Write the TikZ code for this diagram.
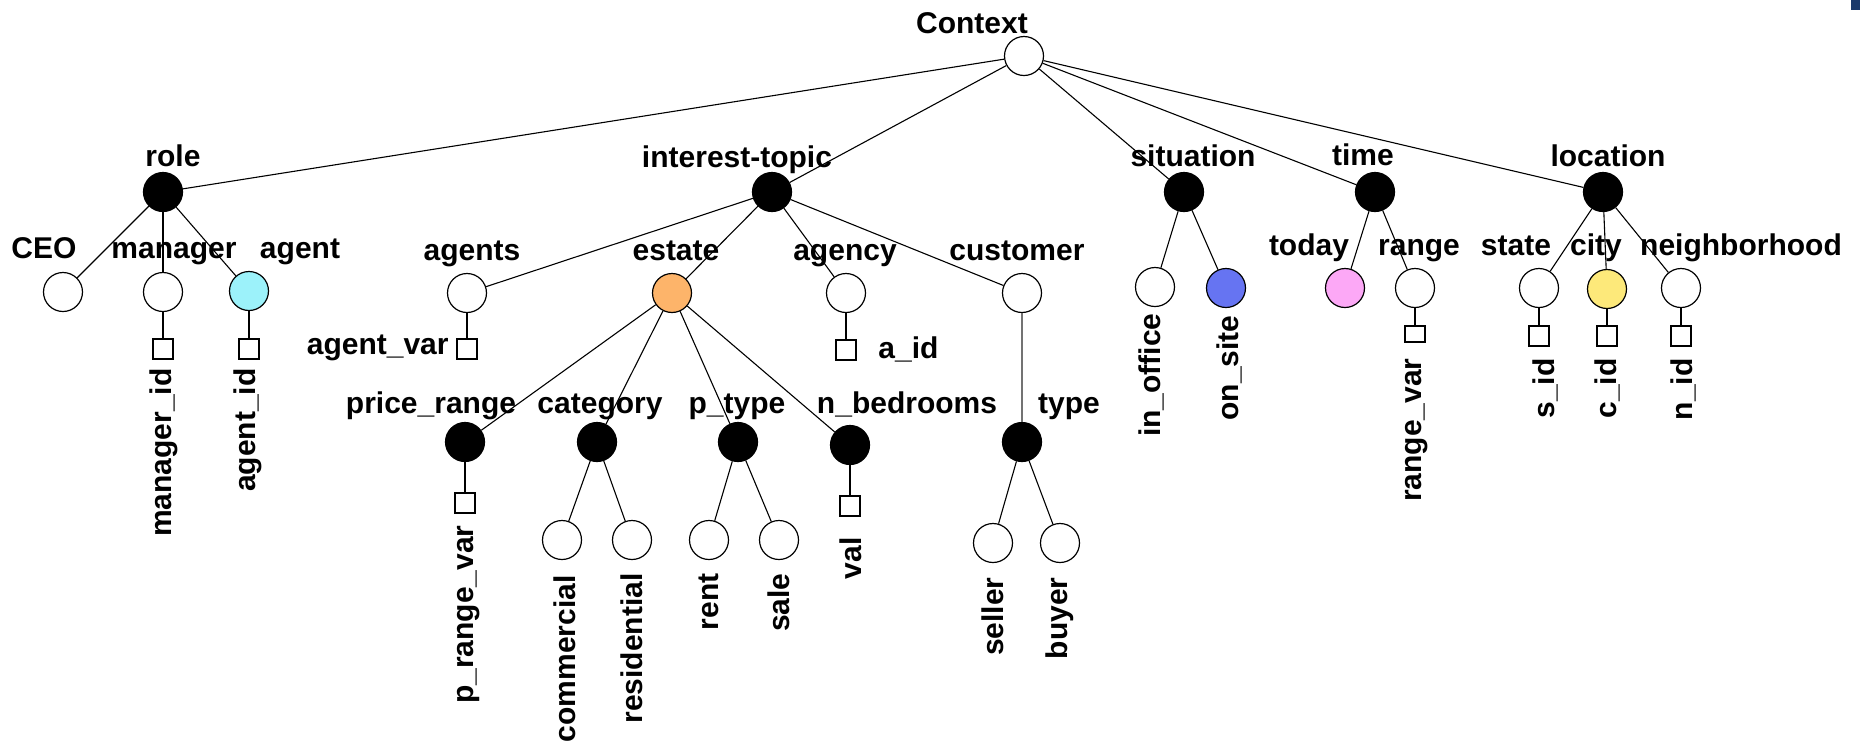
\documentclass[tikz,border=0pt]{standalone}
\usepackage{fontspec}
\setmainfont{Liberation Sans}
\definecolor{cyanc}{HTML}{9CF2FA}
\definecolor{orangec}{HTML}{FDB46A}
\definecolor{bluec}{HTML}{6674F2}
\definecolor{pinkc}{HTML}{FCA8F6}
\definecolor{yellowc}{HTML}{FDE97A}
\definecolor{navyc}{HTML}{1B3A6B}
\tikzset{
  cnode/.style={circle,draw=black,line width=0.6pt,minimum size=19.5pt,inner sep=0pt,fill=white},
  bnode/.style={cnode,fill=black},
  snode/.style={rectangle,draw=black,line width=0.6pt,minimum size=10pt,inner sep=0pt,fill=white},
  lbl/.style={font=\bfseries\fontsize{15}{18}\selectfont,inner sep=0pt,anchor=base},
  vlbl/.style={font=\bfseries\fontsize{15}{18}\selectfont,inner sep=0pt,anchor=east,rotate=90},
  edge/.style={draw=black,line width=0.55pt},
  gedge/.style={draw=black!55,line width=0.55pt}
}
\begin{document}
\begin{tikzpicture}[x=0.5pt,y=-0.5pt]
\useasboundingbox (0,0) rectangle (1860,741);
\fill[navyc] (1851,0) rectangle (1860,10);
% labels
\node[lbl] (lContext) at (972,33) {Context};
\node[lbl] (lrole) at (173,166) {role};
\node[lbl] (linterest) at (737,167) {interest-topic};
\node[lbl] (lsituation) at (1193,166) {situation};
\node[lbl] (ltime) at (1363,165) {time};
\node[lbl] (llocation) at (1608,166) {location};
\node[lbl] (lCEO) at (44,258) {CEO};
\node[lbl] (lmanager) at (174,258) {manager};
\node[lbl] (lagent) at (300,258) {agent};
\node[lbl] (lagents) at (472,260) {agents};
\node[lbl] (lestate) at (676,260) {estate};
\node[lbl] (lagency) at (845,260) {agency};
\node[lbl] (lcustomer) at (1017,260) {customer};
\node[lbl] (ltoday) at (1309,255) {today};
\node[lbl] (lrange) at (1419,255) {range};
\node[lbl] (lstate) at (1516,255) {state};
\node[lbl] (lcity) at (1596,255) {city};
\node[lbl] (lneighborhood) at (1741,255) {neighborhood};
\node[lbl] (lprice) at (431,413) {price\_range};
\node[lbl] (lcategory) at (600,413) {category};
\node[lbl] (lptype) at (737,413) {p\_type};
\node[lbl] (lnbed) at (907,413) {n\_bedrooms};
\node[lbl] (ltype) at (1069,413) {type};
\node[lbl,anchor=base east] (lagentvar) at (449,354) {agent\_var};
\node[lbl,anchor=base west] (laid) at (878,358) {a\_id};
% vertical labels
\node[vlbl] (lmanagerid) at (164,368) {manager\_id};
\node[vlbl] (lagentid) at (248,368) {agent\_id};
\node[vlbl] (lprangevar) at (469,525) {p\_range\_var};
\node[vlbl] (lcommercial) at (565,575) {commercial};
\node[vlbl] (lresidential) at (632,573) {residential};
\node[vlbl] (lrent) at (709,573) {rent};
\node[vlbl] (lsale) at (779,573) {sale};
\node[vlbl] (lval) at (851,537) {val};
\node[vlbl] (lseller) at (993,577) {seller};
\node[vlbl] (lbuyer) at (1060,577) {buyer};
\node[vlbl] (linoffice) at (1151,313) {in\_office};
\node[vlbl] (lonsite) at (1229,315) {on\_site};
\node[vlbl] (lrangevar) at (1417,358) {range\_var};
\node[vlbl] (lsid) at (1545,358) {s\_id};
\node[vlbl] (lcid) at (1607,358) {c\_id};
\node[vlbl] (lnid) at (1683,358) {n\_id};
% circle nodes
\node[cnode] (context) at (1024,56) {};
\node[bnode] (role) at (163,192) {};
\node[bnode] (interest) at (772,192) {};
\node[bnode] (situation) at (1184,192) {};
\node[bnode] (time) at (1375,192) {};
\node[bnode] (location) at (1603,192) {};
\node[cnode] (ceo) at (63,292) {};
\node[cnode] (manager) at (163,292) {};
\node[cnode,fill=cyanc] (agent) at (249,291) {};
\node[cnode] (agents) at (467,293) {};
\node[cnode,fill=orangec] (estate) at (672,293) {};
\node[cnode] (agency) at (846,293) {};
\node[cnode] (customer) at (1022,293) {};
\node[cnode] (inoffice) at (1155,287) {};
\node[cnode,fill=bluec] (onsite) at (1226,288) {};
\node[cnode,fill=pinkc] (today) at (1345,288) {};
\node[cnode] (range) at (1415,288) {};
\node[cnode] (state) at (1539,288) {};
\node[cnode,fill=yellowc] (city) at (1607,289) {};
\node[cnode] (neighborhood) at (1681,288) {};
\node[bnode] (price) at (465,442) {};
\node[bnode] (category) at (597,442) {};
\node[bnode] (ptype) at (738,442) {};
\node[bnode] (nbed) at (850,445) {};
\node[bnode] (type) at (1022,442) {};
\node[cnode] (commercial) at (562,540) {};
\node[cnode] (residential) at (632,540) {};
\node[cnode] (rent) at (709,540) {};
\node[cnode] (sale) at (779,540) {};
\node[cnode] (seller) at (993,543) {};
\node[cnode] (buyer) at (1060,543) {};
% squares
\node[snode] (smanager) at (163,349) {};
\node[snode] (sagent) at (249,349) {};
\node[snode] (sagents) at (467,349) {};
\node[snode] (said) at (846,350) {};
\node[snode] (sprange) at (465,503) {};
\node[snode] (sval) at (850,506) {};
\node[snode,minimum height=8pt] (srange) at (1415,334) {};
\node[snode] (ssid) at (1539,336) {};
\node[snode] (scid) at (1607,336) {};
\node[snode] (snid) at (1681,336) {};
% connectors
\foreach \t in {role,interest,situation,time,location} \path[edge] (context) -- (\t);
\foreach \t in {ceo,manager,agent} \path[edge] (role) -- (\t);
\path[edge] (manager) -- (smanager);
\path[edge] (agent) -- (sagent);
\foreach \t in {agents,estate,agency,customer} \path[edge] (interest) -- (\t);
\path[edge] (agents) -- (sagents);
\path[edge] (agency) -- (said);
\path[gedge] (customer) -- (type);
\foreach \t in {price,category,ptype,nbed} \path[edge] (estate) -- (\t);
\path[edge] (price) -- (sprange);
\path[edge] (category) -- (commercial);
\path[edge] (category) -- (residential);
\path[edge] (ptype) -- (rent);
\path[edge] (ptype) -- (sale);
\path[edge] (nbed) -- (sval);
\path[edge] (type) -- (seller);
\path[edge] (type) -- (buyer);
\path[edge] (situation) -- (inoffice);
\path[edge] (situation) -- (onsite);
\path[edge] (time) -- (today);
\path[edge] (time) -- (range);
\path[edge] (range) -- (srange);
\foreach \t in {state,city,neighborhood} \path[edge] (location) -- (\t);
\path[edge] (state) -- (ssid);
\path[edge] (city) -- (scid);
\path[edge] (neighborhood) -- (snid);
\end{tikzpicture}
\end{document}
